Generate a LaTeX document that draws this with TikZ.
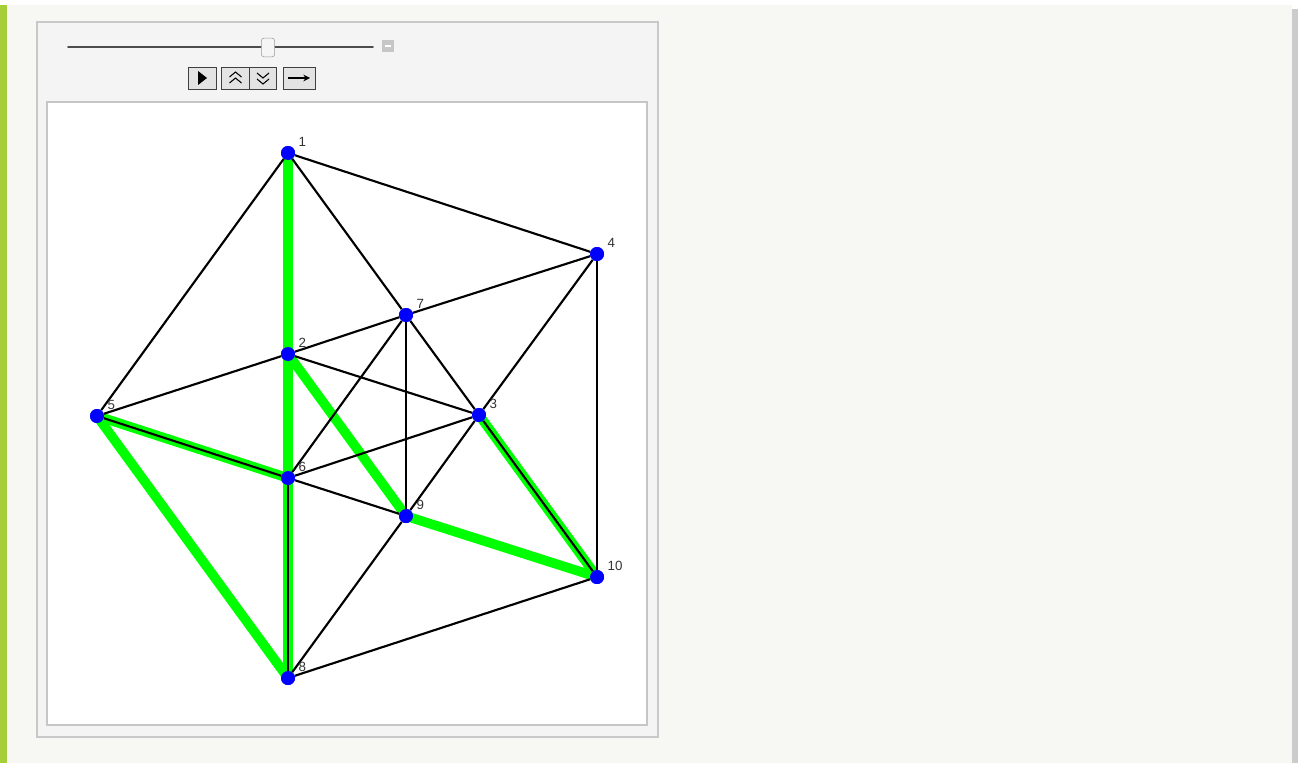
\documentclass[tikz,border=0pt]{standalone}
\usepackage{fontspec}
\setmainfont{Liberation Sans}
\usepackage{xcolor}
\usetikzlibrary{arrows.meta, positioning, calc}
\definecolor{pagebg}{HTML}{F7F7F3}
\definecolor{sidebar}{HTML}{A6CE39}
\definecolor{panelbg}{HTML}{F4F4F4}
\definecolor{panelline}{HTML}{C8C8C8}
\definecolor{hlgreen}{HTML}{00FF00}
\definecolor{vtxblue}{HTML}{0000FF}

\begin{document}
\begin{tikzpicture}[
  x=0.75pt, y=-0.75pt,
  node distance=0.5pt and 4pt,
  vtx/.style={circle, fill=vtxblue, inner sep=0pt, minimum size=10.5pt},
  lbl/.style={font=\fontsize{10}{11}\selectfont, text=black!80, inner sep=0pt, anchor=south west},
  edge/.style={black, line width=1.6pt},
  hl/.style={hlgreen, line width=7.2pt, line cap=round},
  btn/.style={draw=black!75, fill=gray!22, line width=0.6pt, minimum height=16.5pt, inner sep=0pt}
]
\useasboundingbox (0,0) rectangle (1301,763);

% Fond de page
\fill[white] (0,0) rectangle (1301,763);
\fill[pagebg] (7,5) rectangle (1292,763);
\fill[sidebar] (0,5) rectangle (7,763);
\fill[gray!40] (1292,9) rectangle (1298,763);

% Panneau
\node[draw=panelline, fill=panelbg, line width=0.8pt, minimum width=465.75pt, minimum height=536.25pt, inner sep=0pt] (panel) at (347.5,379.5) {};
\node[draw=gray!45, fill=white, line width=1.5pt, minimum width=450pt, minimum height=467.25pt, inner sep=0pt] (plot) at (347,413.5) {};

% Curseur
\coordinate (trackL) at (68,47);
\coordinate (trackR) at (373,47);
\draw[black!70, line width=1.4pt, line cap=round] (trackL) -- (trackR);
\node[draw=gray!80, fill=gray!8, rounded corners=2pt, minimum width=10pt, minimum height=14pt, inner sep=0pt] (thumb) at (268,47.5) {};
\node[fill=gray!45, minimum width=9pt, minimum height=9pt, inner sep=0pt] (minus) at (388,46) {};
\draw[white, line width=1pt] ($(minus.center)+(-3,0)$) -- ($(minus.center)+(3,0)$);

% Boutons
\node[btn, minimum width=21pt] (play) at (202,78) {};
\node[btn, minimum width=20.5pt] (up) at (235.5,78) {};
\node[btn, minimum width=20.5pt] (down) at (263,78) {};
\node[btn, minimum width=24pt] (fwd) at (299,78) {};
\fill ($(play.center)+(-4,-7)$) -- ($(play.center)+(5,0)$) -- ($(play.center)+(-4,7)$) -- cycle;
\draw[line width=0.8pt] ($(up.center)+(-6,-1)$) -- ($(up.center)+(0,-6)$) -- ($(up.center)+(6,-1)$);
\draw[line width=0.8pt] ($(up.center)+(-6,5)$) -- ($(up.center)+(0,0)$) -- ($(up.center)+(6,5)$);
\draw[line width=0.8pt] ($(down.center)+(-6,-5)$) -- ($(down.center)+(0,0)$) -- ($(down.center)+(6,-5)$);
\draw[line width=0.8pt] ($(down.center)+(-6,1)$) -- ($(down.center)+(0,6)$) -- ($(down.center)+(6,1)$);
\draw[-{Stealth[length=5pt, width=5pt]}, line width=1pt] ($(fwd.center)+(-11,0)$) -- ($(fwd.center)+(11,0)$);

% Sommets
\node[vtx] (v1) at (288,153) {};
\node[vtx] (v2) at (288,354) {};
\node[vtx] (v3) at (479,415) {};
\node[vtx] (v4) at (597,254) {};
\node[vtx] (v5) at (97,416) {};
\node[vtx] (v6) at (288,478) {};
\node[vtx] (v7) at (406,315) {};
\node[vtx] (v8) at (288,678) {};
\node[vtx] (v9) at (406,516) {};
\node[vtx] (v10) at (597,577) {};

% Chemin en vert
\draw[hl] (v1.center) -- (v2.center);
\draw[hl] (v2.center) -- (v6.center);
\draw[hl] (v6.center) -- (v8.center);
\draw[hl] (v8.center) -- (v5.center);
\draw[hl] (v5.center) -- (v6.center);
\draw[hl] (v2.center) -- (v9.center);
\draw[hl] (v9.center) -- (v10.center);
\draw[hl] (v10.center) -- (v3.center);

% Arêtes
\draw[edge] (v1) -- (v4);
\draw[edge] (v1) -- (v5);
\draw[edge] (v1) -- (v7);
\draw[edge] (v2) -- (v5);
\draw[edge] (v2) -- (v7);
\draw[edge] (v2) -- (v3);
\draw[edge] (v3) -- (v7);
\draw[edge] (v3) -- (v4);
\draw[edge] (v3) -- (v6);
\draw[edge] (v3) -- (v9);
\draw[edge] (v3) -- (v10);
\draw[edge] (v4) -- (v7);
\draw[edge] (v4) -- (v10);
\draw[edge] (v5) -- (v6);
\draw[edge] (v6) -- (v7);
\draw[edge] (v6) -- (v9);
\draw[edge] (v6) -- (v8);
\draw[edge] (v7) -- (v9);
\draw[edge] (v8) -- (v9);
\draw[edge] (v8) -- (v10);

% Redessiner les sommets par-dessus
\foreach \v in {v1,v2,v3,v4,v5,v6,v7,v8,v9,v10}
  \fill[vtxblue] (\v) circle (5.25pt);

% Étiquettes
\node[lbl, above right=of v1] (l1) {1};
\node[lbl, above right=of v2] (l2) {2};
\node[lbl, above right=of v3] (l3) {3};
\node[lbl, above right=of v4] (l4) {4};
\node[lbl, above right=of v5] (l5) {5};
\node[lbl, above right=of v6] (l6) {6};
\node[lbl, above right=of v7] (l7) {7};
\node[lbl, above right=of v8] (l8) {8};
\node[lbl, above right=of v9] (l9) {9};
\node[lbl, above right=of v10] (l10) {10};

\end{tikzpicture}
\end{document}
